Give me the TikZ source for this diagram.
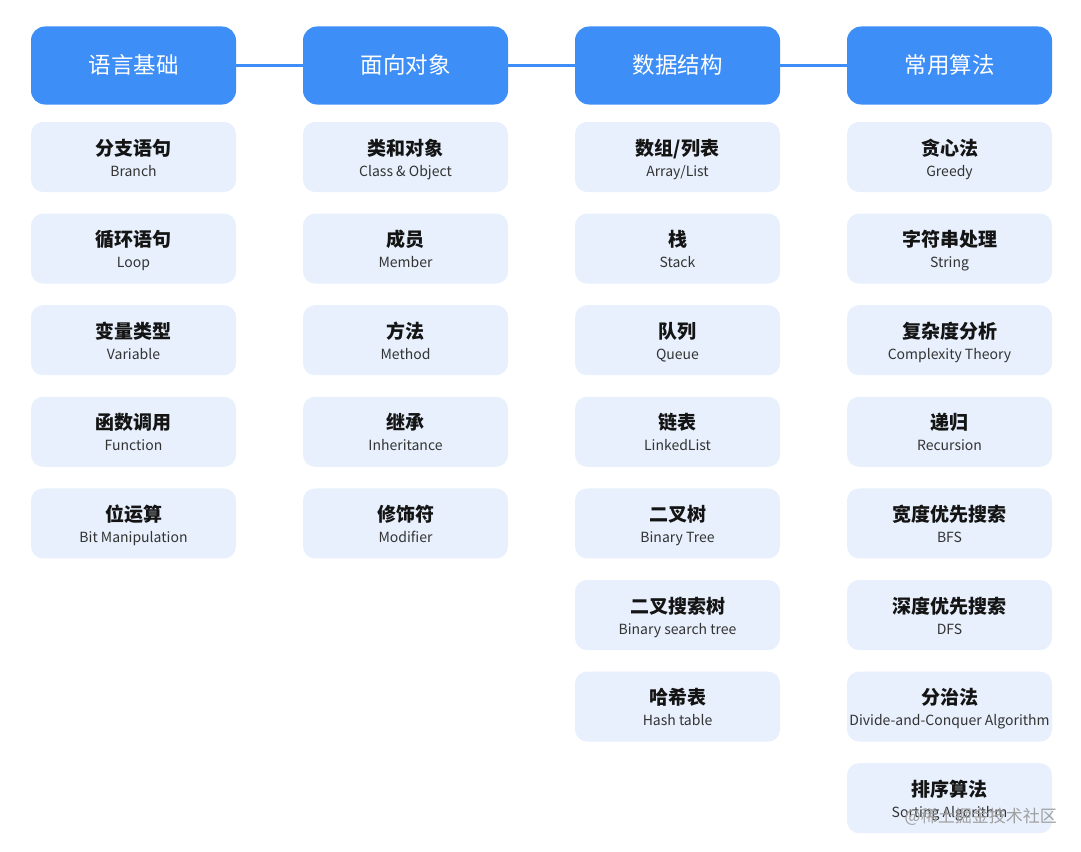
\documentclass[tikz,border=0pt]{standalone}
\usepackage{fontspec}
\setmainfont{Noto Sans CJK SC}
\newfontfamily\cjk{Noto Sans CJK SC}
\definecolor{hblue}{HTML}{3E8EF7}
\definecolor{sblue}{HTML}{E7F0FC}
\definecolor{entext}{HTML}{333333}
\definecolor{cntext}{HTML}{141414}
\definecolor{wm}{HTML}{A0A0A0}
\tikzset{
  head/.style={rectangle, rounded corners=14pt, fill=hblue, minimum width=205pt, minimum height=78pt, inner sep=0pt},
  headlabel/.style={inner sep=0pt, anchor=base, text=white, font=\cjk\fontsize{22.5}{24}\selectfont},
  subbox/.style={rectangle, rounded corners=12pt, fill=sblue, minimum width=205pt, minimum height=70pt, inner sep=0pt},
  cnlabel/.style={inner sep=0pt, anchor=base, text=cntext, font=\cjk\bfseries\fontsize{19}{21}\selectfont},
  enlabel/.style={inner sep=0pt, anchor=base, text=entext, font=\cjk\fontsize{14}{16}\selectfont},
  link/.style={draw=hblue, line width=3pt}
}
\newcommand\mysub[5]{%
  \node[subbox] (#1) at (#2, {122+(#3-1)*91.6+35}) {};
  \node[cnlabel] (#1cn) at ([yshift=2pt]#1.center) {#4};
  \node[enlabel] (#1en) at ([yshift=-19pt]#1.center) {#5};
}
\newcommand\myhead[3]{%
  \node[head] (#1) at (#2,65.5) {};
  \node[headlabel] (#1t) at ([yshift=-8.5pt]#1.center) {#3};
}
\begin{document}
\begin{tikzpicture}[x=1pt,y=-1pt]
\useasboundingbox (0,0) rectangle (1081,851);
\fill[white] (0,0) rectangle (1081,851);
% headers
\myhead{h1}{133.5}{语言基础}
\myhead{h2}{405.5}{面向对象}
\myhead{h3}{677.5}{数据结构}
\myhead{h4}{949.5}{常用算法}
\draw[link] (h1.east) -- (h2.west);
\draw[link] (h2.east) -- (h3.west);
\draw[link] (h3.east) -- (h4.west);
% column 1
\mysub{a1}{133.5}{1}{分支语句}{Branch}
\mysub{a2}{133.5}{2}{循环语句}{Loop}
\mysub{a3}{133.5}{3}{变量类型}{Variable}
\mysub{a4}{133.5}{4}{函数调用}{Function}
\mysub{a5}{133.5}{5}{位运算}{Bit Manipulation}
% column 2
\mysub{b1}{405.5}{1}{类和对象}{Class \& Object}
\mysub{b2}{405.5}{2}{成员}{Member}
\mysub{b3}{405.5}{3}{方法}{Method}
\mysub{b4}{405.5}{4}{继承}{Inheritance}
\mysub{b5}{405.5}{5}{修饰符}{Modifier}
% column 3
\mysub{c1}{677.5}{1}{数组/列表}{Array/List}
\mysub{c2}{677.5}{2}{栈}{Stack}
\mysub{c3}{677.5}{3}{队列}{Queue}
\mysub{c4}{677.5}{4}{链表}{LinkedList}
\mysub{c5}{677.5}{5}{二叉树}{Binary Tree}
\mysub{c6}{677.5}{6}{二叉搜索树}{Binary search tree}
\mysub{c7}{677.5}{7}{哈希表}{Hash table}
% column 4
\mysub{d1}{949.5}{1}{贪心法}{Greedy}
\mysub{d2}{949.5}{2}{字符串处理}{String}
\mysub{d3}{949.5}{3}{复杂度分析}{Complexity Theory}
\mysub{d4}{949.5}{4}{递归}{Recursion}
\mysub{d5}{949.5}{5}{宽度优先搜索}{BFS}
\mysub{d6}{949.5}{6}{深度优先搜索}{DFS}
\mysub{d7}{949.5}{7}{分治法}{Divide-and-Conquer Algorithm}
\mysub{d8}{949.5}{8}{排序算法}{Sorting Algorithm}
% watermark
\node[inner sep=0pt, anchor=east, text=wm, font=\cjk\fontsize{17}{19}\selectfont] (wmk) at (1057,817) {@稀土掘金技术社区};
\end{tikzpicture}
\end{document}
